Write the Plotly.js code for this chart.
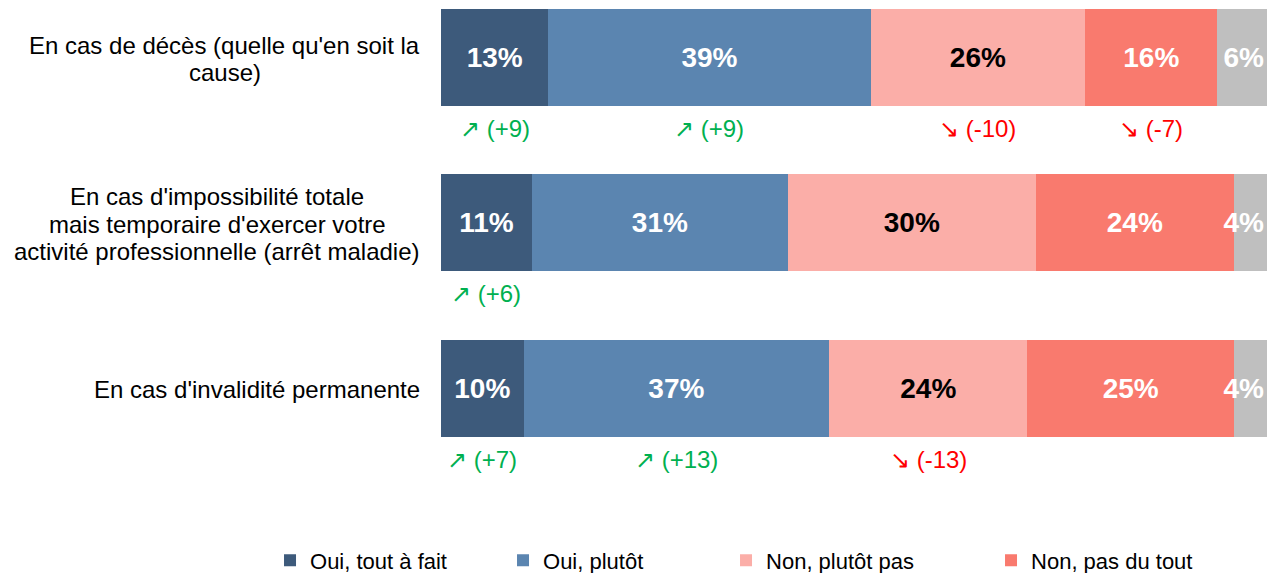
<!DOCTYPE html>
<html>
<head>
<meta charset="utf-8">
<script src="https://cdn.plot.ly/plotly-3.0.1.min.js"></script>
<style>
  html, body { margin: 0; padding: 0; background: #fff; }
  #chart { width: 1267px; height: 573px; }
</style>
</head>
<body>
<div id="chart"></div>
<script>
// questions (one line per array entry)
const categories = [
  ["En cas de décès (quelle qu'en soit la", "cause)"],
  ["En cas d'impossibilité totale", "mais temporaire d'exercer votre", "activité professionnelle (arrêt maladie)"],
  ["En cas d'invalidité permanente"]
];
const seriesNames = ["Oui, tout à fait", "Oui, plutôt", "Non, plutôt pas", "Non, pas du tout", "Ne se prononce pas"];

// % of answers, one array per answer, in category order
const ouiToutAFait = [13, 11, 10];
const ouiPlutot = [39, 31, 37];
const nonPlutotPas = [26, 30, 24];
const nonPasDuTout = [16, 24, 25];
const nsp = [6, 4, 4];

// evolution in points vs previous wave (null = not shown)
const evoToutAFait = [9, 6, 7];
const evoPlutot = [9, null, 13];
const evoPlutotPas = [-10, null, -13];
const evoPasDuTout = [-7, null, null];
const evoNsp = [null, null, null];

const values = [ouiToutAFait, ouiPlutot, nonPlutotPas, nonPasDuTout, nsp];
const evolutions = [evoToutAFait, evoPlutot, evoPlutotPas, evoPasDuTout, evoNsp];

const colors = ["#3d5a7b", "#5b85b0", "#fbaea8", "#f97a6e", "#bfbfbf"];
const textColors = ["#ffffff", "#ffffff", "#000000", "#ffffff", "#ffffff"];
const textAnchors = ["middle", "middle", "middle", "middle", "end"];
const legendWidths = [188, 178, 220, 170, 100];
const FONT = "'Liberation Sans', Arial, sans-serif";

const yIdx = categories.map((c, i) => i);

const traces = values.map((vals, s) => ({
  type: "bar",
  orientation: "h",
  name: seriesNames[s],
  x: vals,
  y: yIdx,
  width: 0.586,
  marker: { color: colors[s], line: { width: 0 } },
  texttemplate: "%{x}%",
  textposition: "inside",
  insidetextanchor: textAnchors[s],
  textangle: 0,
  constraintext: "none",
  textfont: { family: FONT, size: 28, color: textColors[s], weight: "bold" },
  showlegend: s < 4,
  legendwidth: legendWidths[s],
  hoverinfo: "skip"
}));

const annotations = [];

// question labels, centred block right-aligned next to the bars
const ctx = document.createElement("canvas").getContext("2d");
ctx.font = "24px " + FONT;
const lineH = 27.5;
categories.forEach((lines, i) => {
  const maxW = Math.max(...lines.map(l => ctx.measureText(l).width));
  lines.forEach((line, k) => {
    annotations.push({
      xref: "paper", yref: "y",
      x: 0, y: i,
      xanchor: "center", yanchor: "middle",
      xshift: -(21 + maxW / 2),
      yshift: ((lines.length - 1) / 2 - k) * lineH - 1.5,
      text: line,
      showarrow: false,
      font: { family: FONT, size: 24, color: "#000000" }
    });
  });
});

// evolution labels under each segment
categories.forEach((c, i) => {
  let cum = 0;
  values.forEach((vals, s) => {
    const mid = cum + vals[i] / 2;
    cum += vals[i];
    const e = evolutions[s][i];
    if (e === null) return;
    const up = e > 0;
    annotations.push({
      xref: "x", yref: "y",
      x: mid, y: i,
      yshift: -71,
      xanchor: "center", yanchor: "middle",
      text: (up ? "\u2197 (+" : "\u2198 (") + e + ")",
      showarrow: false,
      font: { family: FONT, size: 24, color: up ? "#00b050" : "#ff0000" }
    });
  });
});

const layout = {
  width: 1267,
  height: 573,
  margin: { l: 441, r: 0, t: 0, b: 73, autoexpand: false },
  paper_bgcolor: "#ffffff",
  plot_bgcolor: "#ffffff",
  barmode: "stack",
  xaxis: { range: [0, 100], visible: false, showgrid: false, zeroline: false },
  yaxis: { type: "category", range: [2.674, -0.347], showticklabels: false, showgrid: false, zeroline: false, ticks: "" },
  showlegend: true,
  legend: {
    orientation: "h",
    traceorder: "normal",
    x: -0.207, xanchor: "left",
    y: -0.079, yanchor: "top",
    font: { family: FONT, size: 22, color: "#000000" },
    bgcolor: "rgba(0,0,0,0)"
  },
  annotations: annotations,
  hovermode: false
};

Plotly.newPlot("chart", traces, layout, { displayModeBar: false, staticPlot: true });
</script>
</body>
</html>
